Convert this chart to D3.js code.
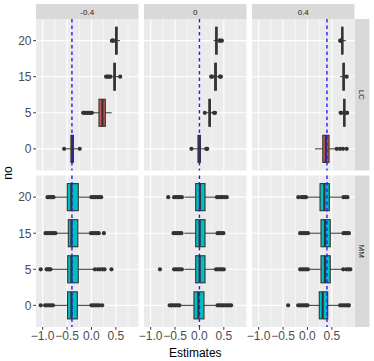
<!DOCTYPE html>
<html>
<head>
<meta charset="utf-8">
<script src="https://cdn.jsdelivr.net/npm/d3@7"></script>
<style>
  body { margin: 0; background: #fff; }
  text { font-family: "Liberation Sans", Arial, sans-serif; }
</style>
</head>
<body>
<div id="chart"></div>
<script>
// column facets (true value), row facets (method), y categories
const truths = [-0.4, 0, 0.4];
const truthLabels = ["-0.4", "0", "0.4"];
const methods = ["LC", "MM"];
const nOLevels = ["0", "5", "15", "20"];
const xTicks = [-1.0, -0.5, 0.0, 0.5];
const xMinor = [-0.75, -0.25, 0.25, 0.75];

// box summaries
const lcBoxes = [
  { truth: -0.4, nO: "20", lo: 0.49, q1: 0.495, med: 0.51, q3: 0.525, hi: 0.585, out: [0.42, 0.435, 0.45] },
  { truth: -0.4, nO: "15", lo: 0.43, q1: 0.46, med: 0.475, q3: 0.49, hi: 0.55, out: [0.3, 0.33, 0.36, 0.39, 0.59] },
  { truth: -0.4, nO: "5", lo: 0.03, q1: 0.155, med: 0.225, q3: 0.285, hi: 0.415, out: [-0.17, -0.14, -0.11, -0.08, -0.05, -0.02, 0.01] },
  { truth: -0.4, nO: "0", lo: -0.52, q1: -0.42, med: -0.395, q3: -0.37, hi: -0.27, out: [-0.56, -0.24] },
  { truth: 0, nO: "20", lo: 0.29, q1: 0.335, med: 0.347, q3: 0.36, hi: 0.4, out: [0.41, 0.43, 0.46] },
  { truth: 0, nO: "15", lo: 0.27, q1: 0.315, med: 0.33, q3: 0.345, hi: 0.4, out: [0.24, 0.26, 0.42, 0.44] },
  { truth: 0, nO: "5", lo: 0.14, q1: 0.195, med: 0.21, q3: 0.225, hi: 0.28, out: [0.11, 0.3, 0.32] },
  { truth: 0, nO: "0", lo: -0.13, q1: -0.03, med: -0.005, q3: 0.02, hi: 0.12, out: [-0.164, 0.14, 0.16] },
  { truth: 0.4, nO: "20", lo: 0.7, q1: 0.705, med: 0.715, q3: 0.725, hi: 0.79, out: [0.67, 0.685, 0.695] },
  { truth: 0.4, nO: "15", lo: 0.67, q1: 0.73, med: 0.743, q3: 0.755, hi: 0.78, out: [0.805] },
  { truth: 0.4, nO: "5", lo: 0.7, q1: 0.745, med: 0.756, q3: 0.767, hi: 0.8, out: [0.68, 0.695, 0.805, 0.815] },
  { truth: 0.4, nO: "0", lo: 0.155, q1: 0.315, med: 0.38, q3: 0.442, hi: 0.57, out: [0.6, 0.668, 0.729, 0.805] }
];
const mmBoxes = [
  { truth: -0.4, nO: "20", lo: -0.75, q1: -0.495, med: -0.413, q3: -0.27, hi: -0.02, out: [-0.9, -0.87, -0.84, -0.81, -0.78, 0.0, 0.04, 0.08, 0.12, 0.16, 0.2] },
  { truth: -0.4, nO: "15", lo: -0.71, q1: -0.475, med: -0.41, q3: -0.28, hi: -0.044, out: [-0.94, -0.9, -0.86, -0.82, -0.78, -0.74, -0.01, 0.03, 0.07, 0.11, 0.15, 0.255] },
  { truth: -0.4, nO: "5", lo: -0.815, q1: -0.487, med: -0.41, q3: -0.27, hi: 0.04, out: [-1.04, -0.92, -0.89, -0.86, -0.84, 0.07, 0.13, 0.18, 0.23, 0.27, 0.41] },
  { truth: -0.4, nO: "0", lo: -0.76, q1: -0.49, med: -0.41, q3: -0.29, hi: -0.02, out: [-1.04, -0.95, -0.91, -0.87, -0.83, -0.79, 0.0, 0.04, 0.08, 0.12, 0.16, 0.22] },
  { truth: 0, nO: "20", lo: -0.31, q1: -0.077, med: 0.011, q3: 0.114, hi: 0.34, out: [-0.64, -0.52, -0.48, -0.44, -0.4, -0.36, 0.36, 0.4, 0.44, 0.48, 0.52, 0.56] },
  { truth: 0, nO: "15", lo: -0.31, q1: -0.077, med: 0.005, q3: 0.114, hi: 0.33, out: [-0.53, -0.49, -0.45, -0.41, -0.37, 0.37, 0.41, 0.45, 0.49] },
  { truth: 0, nO: "5", lo: -0.31, q1: -0.077, med: 0.005, q3: 0.114, hi: 0.32, out: [-0.81, -0.52, -0.48, -0.44, -0.4, -0.36, 0.34, 0.38, 0.42, 0.46, 0.5] },
  { truth: 0, nO: "0", lo: -0.37, q1: -0.112, med: -0.023, q3: 0.093, hi: 0.33, out: [-0.61, -0.57, -0.53, -0.49, -0.45, -0.41, 0.37, 0.41, 0.45, 0.49, 0.53, 0.57, 0.61, 0.65] },
  { truth: 0.4, nO: "20", lo: -0.01, q1: 0.258, med: 0.346, q3: 0.448, hi: 0.71, out: [-0.187, -0.12, -0.09, -0.06, -0.03, 0.74, 0.78, 0.82] },
  { truth: 0.4, nO: "15", lo: 0.05, q1: 0.278, med: 0.36, q3: 0.468, hi: 0.71, out: [-0.15, -0.11, -0.07, -0.03, 0.01, 0.74, 0.78, 0.82, 0.85] },
  { truth: 0.4, nO: "5", lo: 0.05, q1: 0.278, med: 0.36, q3: 0.468, hi: 0.71, out: [-0.15, -0.11, -0.07, -0.03, 0.01, 0.735, 0.8, 0.84, 0.88] },
  { truth: 0.4, nO: "0", lo: 0.03, q1: 0.243, med: 0.313, q3: 0.416, hi: 0.64, out: [-0.396, -0.19, -0.15, -0.11, -0.07, -0.03, 0.0, 0.67, 0.71, 0.75, 0.79, 0.83, 0.85] }
];
const boxesByMethod = { LC: lcBoxes, MM: mmBoxes };
const fillByMethod = { LC: "#C9585A", MM: "#00BFC4" };

// layout
const W = 374, H = 361;
const plotLeft = 36, plotRight = 354.5, gapX = 5.5;
const pw = (plotRight - plotLeft - 2 * gapX) / 3;
const rowTops = [19, 175.5];
const ph = 151.5;
const stripH = 15, stripW = 15;

const svg = d3.select("#chart").append("svg")
  .attr("width", W).attr("height", H);

const x = d3.scaleLinear().domain([-1.137, 0.965]).range([0, pw]);
const y = d3.scalePoint().domain(nOLevels).range([ph, 0]).padding(0.6);
const boxHalf = y.step() * 0.75 / 2;
const fmt = d => d3.format(".1f")(d).replace("-", "\u2212");

// top strips
truths.forEach((t, ci) => {
  const px = plotLeft + ci * (pw + gapX);
  svg.append("rect").attr("x", px).attr("y", rowTops[0] - stripH)
    .attr("width", pw).attr("height", stripH).attr("fill", "#D9D9D9");
  svg.append("text").attr("x", px + pw / 2).attr("y", rowTops[0] - stripH / 2 + 3)
    .attr("text-anchor", "middle").attr("font-size", "8px").attr("fill", "#1A1A1A")
    .text(truthLabels[ci]);
});

methods.forEach((m, ri) => {
  const py = rowTops[ri];
  // right strip
  svg.append("rect").attr("x", plotRight).attr("y", py)
    .attr("width", stripW).attr("height", ph).attr("fill", "#D9D9D9");
  svg.append("text")
    .attr("transform", `translate(${plotRight + stripW / 2 - 3},${py + ph / 2}) rotate(90)`)
    .attr("text-anchor", "middle").attr("font-size", "8px").attr("fill", "#1A1A1A")
    .text(m);

  truths.forEach((t, ci) => {
    const px = plotLeft + ci * (pw + gapX);
    const g = svg.append("g").attr("transform", `translate(${px},${py})`);
    g.append("rect").attr("width", pw).attr("height", ph).attr("fill", "#EBEBEB");

    g.selectAll("line.minor").data(xMinor).enter().append("line")
      .attr("x1", d => x(d)).attr("x2", d => x(d)).attr("y1", 0).attr("y2", ph)
      .attr("stroke", "#fff").attr("stroke-width", 0.55);
    g.selectAll("line.major").data(xTicks).enter().append("line")
      .attr("x1", d => x(d)).attr("x2", d => x(d)).attr("y1", 0).attr("y2", ph)
      .attr("stroke", "#fff").attr("stroke-width", 1.1);
    g.selectAll("line.hmajor").data(nOLevels).enter().append("line")
      .attr("x1", 0).attr("x2", pw).attr("y1", d => y(d)).attr("y2", d => y(d))
      .attr("stroke", "#fff").attr("stroke-width", 1.1);

    const boxes = boxesByMethod[m].filter(b => b.truth === t);
    const bg = g.selectAll("g.box").data(boxes).enter().append("g")
      .attr("transform", d => `translate(0,${y(d.nO)})`);
    bg.append("line").attr("x1", d => x(d.lo)).attr("x2", d => x(d.q1))
      .attr("stroke", "#333").attr("stroke-width", 1);
    bg.append("line").attr("x1", d => x(d.q3)).attr("x2", d => x(d.hi))
      .attr("stroke", "#333").attr("stroke-width", 1);
    bg.append("rect").attr("x", d => x(d.q1)).attr("y", -boxHalf)
      .attr("width", d => x(d.q3) - x(d.q1)).attr("height", 2 * boxHalf)
      .attr("fill", fillByMethod[m]).attr("stroke", "#333").attr("stroke-width", 1.1);
    bg.append("line").attr("x1", d => x(d.med)).attr("x2", d => x(d.med))
      .attr("y1", -boxHalf).attr("y2", boxHalf)
      .attr("stroke", "#333").attr("stroke-width", 2.2);
    bg.selectAll("circle").data(d => d.out).enter().append("circle")
      .attr("cx", d => x(d)).attr("cy", 0).attr("r", 2.1).attr("fill", "#333");

    g.append("line").attr("x1", x(t)).attr("x2", x(t)).attr("y1", 0).attr("y2", ph)
      .attr("stroke", "#2020FF").attr("stroke-width", 1.4).attr("stroke-dasharray", "3.5,3");

    // x axis on bottom row
    if (ri === methods.length - 1) {
      const ax = g.append("g").attr("transform", `translate(0,${ph})`);
      ax.selectAll("line").data(xTicks).enter().append("line")
        .attr("x1", d => x(d)).attr("x2", d => x(d)).attr("y1", 0).attr("y2", 2.75)
        .attr("stroke", "#333").attr("stroke-width", 1);
      ax.selectAll("text").data(xTicks).enter().append("text")
        .attr("x", d => x(d)).attr("y", 13).attr("text-anchor", "middle")
        .attr("font-size", "12px").attr("fill", "#4D4D4D").text(fmt);
    }
  });

  // y axis on left column
  const ay = svg.append("g").attr("transform", `translate(${plotLeft},${py})`);
  ay.selectAll("line").data(nOLevels).enter().append("line")
    .attr("x1", -2.75).attr("x2", 0).attr("y1", d => y(d)).attr("y2", d => y(d))
    .attr("stroke", "#333").attr("stroke-width", 1);
  ay.selectAll("text").data(nOLevels).enter().append("text")
    .attr("x", -4.5).attr("y", d => y(d) + 4.3).attr("text-anchor", "end")
    .attr("font-size", "12px").attr("fill", "#4D4D4D").text(d => d);
});

// axis titles
svg.append("text").attr("x", (plotLeft + plotRight) / 2).attr("y", 357)
  .attr("text-anchor", "middle").attr("font-size", "12px").attr("fill", "#000")
  .text("Estimates");
svg.append("text")
  .attr("transform", `translate(12,${(rowTops[0] + rowTops[1] + ph) / 2}) rotate(-90)`)
  .attr("text-anchor", "middle").attr("font-size", "12px").attr("fill", "#000")
  .text("no");
</script>
</body>
</html>
